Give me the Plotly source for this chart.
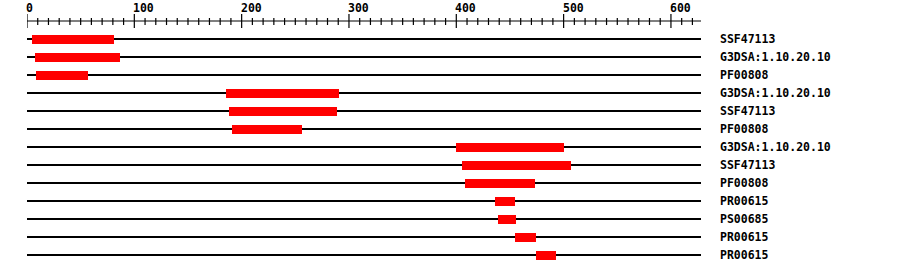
import plotly.graph_objects as go

# ---- data ----
labels = ["SSF47113", "G3DSA:1.10.20.10", "PF00808", "G3DSA:1.10.20.10", "SSF47113", "PF00808",
          "G3DSA:1.10.20.10", "SSF47113", "PF00808", "PR00615", "PS00685", "PR00615", "PR00615"]
starts = [5, 7, 8, 185, 188, 191, 400, 405, 408, 436, 439, 455, 474]
ends = [81, 87, 57, 291, 289, 256, 500, 507, 473, 455, 456, 474, 493]
seq_length = 628
major_ticks = [0, 100, 200, 300, 400, 500, 600]
tick_labels = ["0", "100", "200", "300", "400", "500", "600"]
minor_step = 10

# ---- layout constants (pixel based y axis) ----
ROW0 = 39
ROW_STEP = 18
BAR_H = 9
AXIS_Y = 21
FONT = dict(family="DejaVu Sans Mono", size=11.5, color="black")

rows_y = [ROW0 + ROW_STEP * i for i in range(len(labels))]

fig = go.Figure()

# baselines (as thin bars so that the red bars sit on top)
fig.add_trace(go.Bar(y=rows_y, x=[seq_length] * len(rows_y), base=[0] * len(rows_y),
                     orientation="h", width=1.2, marker=dict(color="black", line=dict(width=0)),
                     hoverinfo="skip", showlegend=False))

# bars
fig.add_trace(go.Bar(y=rows_y, x=[e - s for s, e in zip(starts, ends)], base=starts,
                     orientation="h", width=BAR_H, marker=dict(color="#ff0000", line=dict(width=0)),
                     showlegend=False, hovertext=labels))

# axis line and ticks
ax, ay = [0, seq_length, None], [AXIS_Y, AXIS_Y, None]
for t in range(0, seq_length + 1, minor_step):
    if t in major_ticks:
        ax += [t, t, None]
        ay += [14, 28, None]
    else:
        ax += [t, t, None]
        ay += [18, 25, None]
fig.add_trace(go.Scatter(x=ax, y=ay, mode="lines", line=dict(color="black", width=1.2),
                         hoverinfo="skip", showlegend=False))

annotations = []
for t, lab in zip(major_ticks, tick_labels):
    annotations.append(dict(x=t, y=8, xref="x", yref="y", text="<b>%s</b>" % lab, showarrow=False,
                            xanchor="left", yanchor="middle", xshift=-3, font=FONT))
for y, lab in zip(rows_y, labels):
    annotations.append(dict(x=1.0, y=y, xref="paper", yref="y", text="<b>%s</b>" % lab, showarrow=False,
                            xanchor="left", yanchor="middle", xshift=17, font=FONT))

fig.update_layout(
    width=900, height=274,
    margin=dict(l=27, r=199, t=0, b=0),
    paper_bgcolor="white", plot_bgcolor="white",
    xaxis=dict(range=[0, seq_length], visible=False, fixedrange=True),
    yaxis=dict(range=[274, 0], visible=False, fixedrange=True),
    annotations=annotations,
    barmode="overlay",
    bargap=0,
)

fig.write_html("out.html")
